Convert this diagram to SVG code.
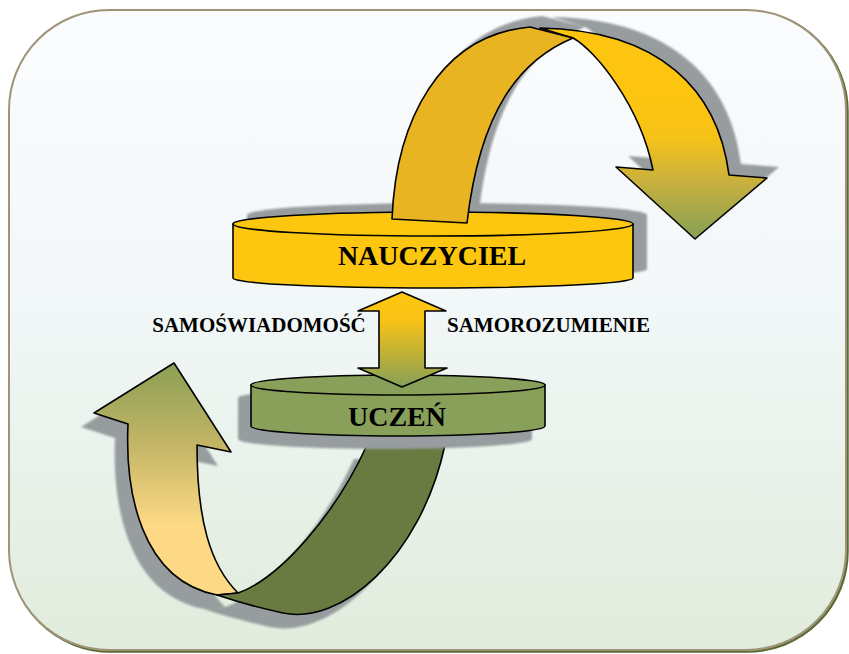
<svg xmlns="http://www.w3.org/2000/svg" width="849" height="654" viewBox="0 0 849 654">
  <defs>
    <linearGradient id="bg" x1="0" y1="0" x2="0" y2="1">
      <stop offset="0" stop-color="#fbfcfe"/>
      <stop offset="0.45" stop-color="#f2f7f8"/>
      <stop offset="0.75" stop-color="#e7f1e8"/>
      <stop offset="1" stop-color="#e1ecdc"/>
    </linearGradient>
    <linearGradient id="topTail" gradientUnits="userSpaceOnUse" x1="0" y1="95" x2="0" y2="239">
      <stop offset="0" stop-color="#fdc50f"/>
      <stop offset="0.3" stop-color="#f6c218"/>
      <stop offset="0.6" stop-color="#c9b13e"/>
      <stop offset="1" stop-color="#86a056"/>
    </linearGradient>
    <linearGradient id="midArrow" gradientUnits="userSpaceOnUse" x1="0" y1="292" x2="0" y2="387">
      <stop offset="0" stop-color="#fdc60f"/>
      <stop offset="0.3" stop-color="#f8c316"/>
      <stop offset="1" stop-color="#86a058"/>
    </linearGradient>
    <linearGradient id="botHead" gradientUnits="userSpaceOnUse" x1="0" y1="363" x2="0" y2="595">
      <stop offset="0" stop-color="#8b9f55"/>
      <stop offset="0.35" stop-color="#c3b566"/>
      <stop offset="0.7" stop-color="#fdd985"/>
      <stop offset="1" stop-color="#fdd985"/>
    </linearGradient>
    <filter id="soft" x="-10%" y="-10%" width="120%" height="120%">
      <feGaussianBlur stdDeviation="1"/>
    </filter>
  </defs>
  <style>
    .edge { stroke: #000; stroke-width: 1.6; stroke-linejoin: round; }
    .shadow { fill: #979c9e; stroke: none; }
    .gold { fill: #fdc60f; }
    .gold-dark { fill: #e9b422; }
    .green { fill: #88a05a; }
    .green-dark { fill: #6a7b42; }
    .label { font-family: "Liberation Serif", "Times New Roman", serif; font-weight: bold; fill: #000; text-anchor: middle; }
  </style>

  <!-- rounded panel -->
  <g id="panel">
    <rect x="10.5" y="11.5" width="837" height="640" rx="100" ry="100" fill="none" stroke="#5b6b35" stroke-width="2.5"/>
    <rect x="9" y="10" width="837" height="640" rx="100" ry="100" fill="url(#bg)" stroke="#a09478" stroke-width="2"/>
  </g>

  <g id="connectors">
    <!-- lower curved arrow: shadow, then ribbon -->
    <g id="arrow-lower">
      <g transform="translate(-13,14)" filter="url(#soft)">
        <path class="shadow" d="M217,595 C140,580 125,490 128,424 L94,413 L174,363 L231,452 L197,445 C197,520 210,565 238,593 Z"/>
        <path class="shadow" d="M217,595 L238,593 C280,578 335,515 367,445 L445,445 C420,560 340,625 283,613 C260,608 235,601 217,595 Z"/>
      </g>
      <path class="edge" fill="url(#botHead)" d="M217,595 C140,580 125,490 128,424 L94,413 L174,363 L231,452 L197,445 C197,520 210,565 238,593 Z"/>
      <path class="edge green-dark" d="M217,595 L238,593 C280,578 335,515 367,445 L445,445 C420,560 340,625 283,613 C260,608 235,601 217,595 Z"/>
    </g>

    <!-- upper curved arrow shadow -->
    <g id="arrow-upper-shadow" transform="translate(12,-11)" filter="url(#soft)">
      <path class="shadow" d="M540,28 C660,30 718,90 729,175 L767,178 L695,239 L616,167 L653,170 C640,105 595,50 573,38 Z"/>
      <path class="shadow" d="M392,219 C396,120 440,35 530,27 L573,38 C520,60 480,110 467,223 Z"/>
    </g>
  </g>

  <!-- teacher disk -->
  <g id="node-nauczyciel">
    <g transform="translate(14,-9)" filter="url(#soft)">
      <path class="shadow" d="M233,224 A200,12 0 0 1 633,224 L633,278 A200,10 0 0 1 233,278 Z"/>
    </g>
    <path class="edge gold" d="M233,224 L233,278 A200,10 0 0 0 633,278 L633,224 Z"/>
    <ellipse class="edge gold" cx="433" cy="224" rx="200" ry="12"/>
    <text class="label" x="432" y="265" font-size="28">NAUCZYCIEL</text>
  </g>

  <!-- upper curved arrow -->
  <g id="arrow-upper">
    <path class="edge" fill="url(#topTail)" d="M540,28 C660,30 718,90 729,175 L767,178 L695,239 L616,167 L653,170 C640,105 595,50 573,38 Z"/>
    <path class="edge gold-dark" d="M392,219 C396,120 440,35 530,27 L573,38 C520,60 480,110 467,223 Z"/>
  </g>

  <!-- student disk -->
  <g id="node-uczen">
    <g transform="translate(-13,13)" filter="url(#soft)">
      <path class="shadow" d="M251,385 A147,10 0 0 1 545,385 L545,426 A147,10 0 0 1 251,426 Z"/>
    </g>
    <path class="edge green" d="M251,385 L251,426 A147,10 0 0 0 545,426 L545,385 Z"/>
    <ellipse class="edge green" cx="398" cy="385" rx="147" ry="10"/>
    <text class="label" x="397" y="426" font-size="28">UCZEŃ</text>
  </g>

  <!-- two-way arrow between the disks -->
  <g id="arrow-middle">
    <path class="edge" fill="url(#midArrow)" d="M402,292 L446,311 L425,311 L425,368 L447,368 L402,387 L358,368 L379,368 L379,311 L358,311 Z"/>
  </g>

  <g id="side-labels">
    <text class="label" x="259" y="332" font-size="21">SAMOŚWIADOMOŚĆ</text>
    <text class="label" x="548.5" y="332" font-size="21">SAMOROZUMIENIE</text>
  </g>
</svg>
